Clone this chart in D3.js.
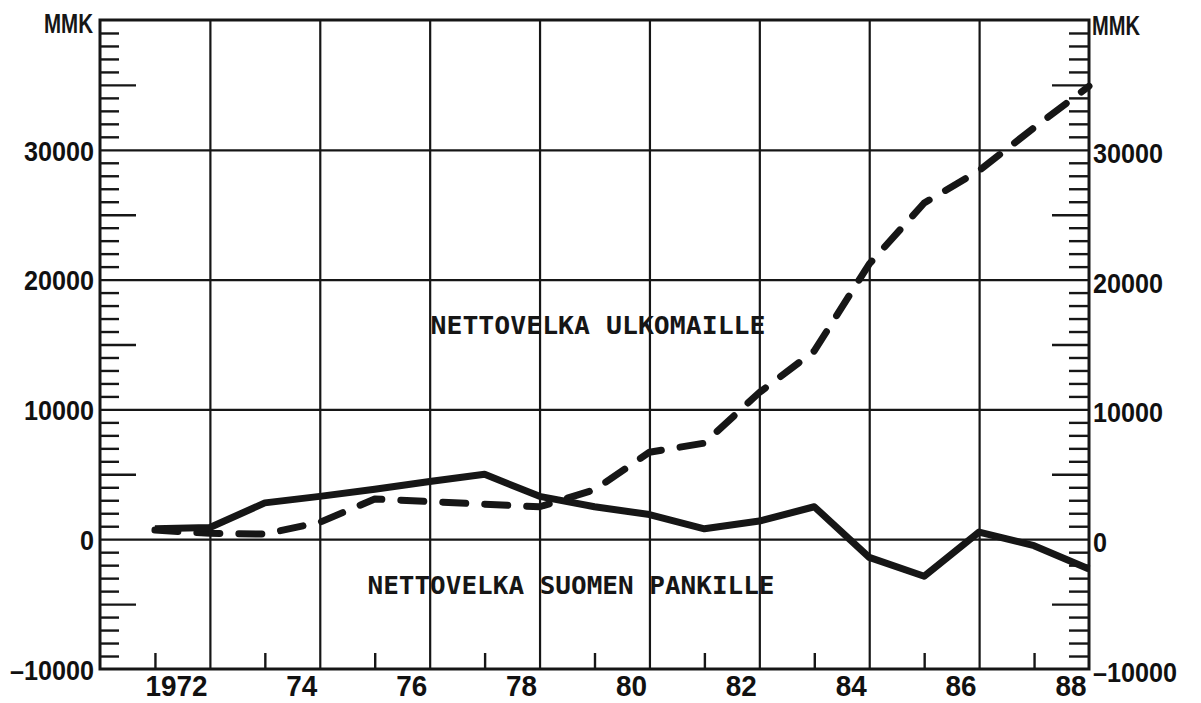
<!DOCTYPE html>
<html>
<head>
<meta charset="utf-8">
<script src="https://cdn.jsdelivr.net/npm/d3@7"></script>
<style>
  body { margin: 0; background: #fff; }
  svg { display: block; }
  .domain { display: none; }
  .tick text { font-family: "Liberation Sans", Arial, sans-serif; font-weight: bold; fill: #111; }
</style>
</head>
<body>
<svg width="1201" height="703"></svg>
<script>
// years on the x axis
var years = [1971, 1972, 1973, 1974, 1975, 1976, 1977, 1978, 1979, 1980,
             1981, 1982, 1983, 1984, 1985, 1986, 1987, 1988];
// MMK, net debt to Bank of Finland (solid)
var suomenPankille = [800, 900, 2800, 3300, 3850, 4450, 5000, 3300, 2500, 1900,
                      800, 1400, 2500, -1400, -2850, 550, -500, -2300];
// MMK, net foreign debt (dashed)
var ulkomaille = [700, 450, 400, 1300, 3100, 2900, 2700, 2500, 3800, 6700,
                  7400, 11300, 14500, 21200, 25900, 28400, 31700, 34900];
var yLabels = [-10000, 0, 10000, 20000, 30000];
var xLabelYears = [1972, 1974, 1976, 1978, 1980, 1982, 1984, 1986, 1988];
var xLabelText = ["1972", "74", "76", "78", "80", "82", "84", "86", "88"];

var svg = d3.select("svg"),
    plotL = 100, plotR = 1089, plotT = 20, plotB = 669;

var x = d3.scaleLinear().domain([1970, 1988]).range([plotL, plotR]),
    y = d3.scaleLinear().domain([-10000, 40000]).range([plotB, plotT]);

var ink = "#161616";

// grid lines
var gridX = d3.range(1972, 1987, 2);
svg.append("g")
  .attr("transform", "translate(0," + plotB + ")")
  .call(d3.axisBottom(x).tickValues(gridX).tickSize(-(plotB - plotT)).tickFormat(""))
  .selectAll("line").attr("stroke", ink).attr("stroke-width", 2.2);

svg.append("g")
  .attr("transform", "translate(" + plotL + ",0)")
  .call(d3.axisLeft(y).tickValues([0, 10000, 20000, 30000]).tickSize(-(plotR - plotL)).tickFormat(""))
  .selectAll("line").attr("stroke", ink).attr("stroke-width", 2.2);

// minor / major ticks on both y axes, pointing inward
var minor = d3.range(-9000, 40000, 1000).filter(function (v) { return v % 5000 != 0; }),
    major = [-5000, 5000, 15000, 25000, 35000];

function yTicks(axisFn, xpos, vals, size) {
  svg.append("g")
    .attr("transform", "translate(" + xpos + ",0)")
    .call(axisFn(y).tickValues(vals).tickSize(size).tickFormat(""))
    .selectAll("line").attr("stroke", ink).attr("stroke-width", 2.4);
}
yTicks(d3.axisLeft, plotL, minor, -19);
yTicks(d3.axisLeft, plotL, major, -36);
yTicks(d3.axisRight, plotR, minor, -20);
yTicks(d3.axisRight, plotR, major, -37);

// short ticks at odd years on the bottom
svg.append("g")
  .attr("transform", "translate(0," + plotB + ")")
  .call(d3.axisBottom(x).tickValues(d3.range(1971, 1988, 2)).tickSize(-16).tickFormat(""))
  .selectAll("line").attr("stroke", ink).attr("stroke-width", 2.4);

// y labels, left and right (narrow, tall digits like the plotter font)
var fmt = function (d) { return d < 0 ? "\u2013" + Math.abs(d) : String(d); };
var yLen = function (d) { return fmt(d).length * 14 + (d < 0 ? 0 : 0); };
svg.append("g")
  .attr("transform", "translate(" + (plotL - 6) + ",0)")
  .call(d3.axisLeft(y).tickValues(yLabels).tickSize(0).tickPadding(0).tickFormat(fmt))
  .selectAll("text").attr("font-size", "27px").attr("dy", "0.38em")
  .attr("textLength", yLen).attr("lengthAdjust", "spacingAndGlyphs");

svg.append("g")
  .attr("transform", "translate(" + (plotR + 4) + ",0)")
  .call(d3.axisRight(y).tickValues(yLabels).tickSize(0).tickPadding(0).tickFormat(fmt))
  .selectAll("text").attr("font-size", "27px").attr("dy", "0.46em")
  .attr("textLength", yLen).attr("lengthAdjust", "spacingAndGlyphs");

// x labels, right-aligned to their year line
svg.append("g")
  .attr("transform", "translate(0," + plotB + ")")
  .call(d3.axisBottom(x).tickValues(xLabelYears).tickSize(0).tickPadding(0)
    .tickFormat(function (d, i) { return xLabelText[i]; }))
  .selectAll("text")
  .attr("font-size", "30px")
  .attr("text-anchor", "end")
  .attr("dx", "-3")
  .attr("y", 6)
  .attr("dy", "0.71em")
  .attr("textLength", function (d, i) { return xLabelText[i].length * 15.5; })
  .attr("lengthAdjust", "spacingAndGlyphs");

// frame
svg.append("rect")
  .attr("x", plotL).attr("y", plotT)
  .attr("width", plotR - plotL).attr("height", plotB - plotT)
  .attr("fill", "none").attr("stroke", ink).attr("stroke-width", 3);

// unit labels
svg.append("text").attr("x", plotL - 56).attr("y", 33)
  .attr("textLength", 49).attr("lengthAdjust", "spacingAndGlyphs")
  .attr("font-family", "Liberation Sans, Arial, sans-serif").attr("font-weight", "bold")
  .attr("font-size", "27px").attr("fill", ink).text("MMK");
svg.append("text").attr("x", plotR + 3).attr("y", 35)
  .attr("textLength", 48).attr("lengthAdjust", "spacingAndGlyphs")
  .attr("font-family", "Liberation Sans, Arial, sans-serif").attr("font-weight", "bold")
  .attr("font-size", "27px").attr("fill", ink).text("MMK");

// series
var line = d3.line()
  .x(function (d) { return x(d[0]); })
  .y(function (d) { return y(d[1]); });

svg.append("path")
  .datum(years.map(function (yr, i) { return [yr, ulkomaille[i]]; }))
  .attr("d", line)
  .attr("fill", "none").attr("stroke", ink).attr("stroke-width", 7)
  .attr("stroke-linecap", "round").attr("stroke-linejoin", "round")
  .attr("stroke-dasharray", "23 19");

svg.append("path")
  .datum(years.map(function (yr, i) { return [yr, suomenPankille[i]]; }))
  .attr("d", line)
  .attr("fill", "none").attr("stroke", ink).attr("stroke-width", 7)
  .attr("stroke-linejoin", "round");

// series captions
function caption(txt, cx, by, len) {
  svg.append("text")
    .attr("x", cx - len / 2).attr("y", by)
    .attr("textLength", len).attr("lengthAdjust", "spacingAndGlyphs")
    .attr("font-family", "DejaVu Sans Mono, monospace").attr("font-weight", "bold")
    .attr("font-size", "25px").attr("fill", ink)
    .text(txt);
}
caption("NETTOVELKA ULKOMAILLE", 598, 334, 335);
caption("NETTOVELKA SUOMEN PANKILLE", 571, 594, 407);
</script>
</body>
</html>
